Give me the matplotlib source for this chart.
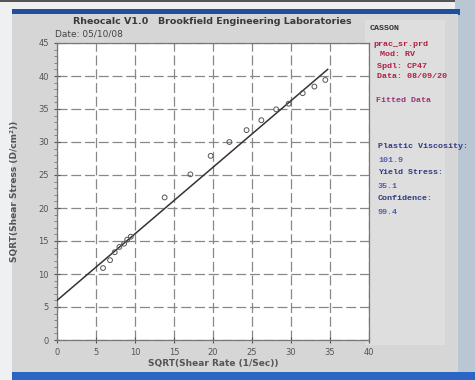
import matplotlib
matplotlib.use("Agg")
import matplotlib.pyplot as plt
from matplotlib.patches import Rectangle
from matplotlib.ticker import MultipleLocator

# Data
shear_rate_sqrt = [5.9, 6.8, 7.4, 8.0, 8.6, 9.0, 9.45, 13.8, 17.1, 19.7,
                   22.1, 24.3, 26.2, 28.1, 29.7, 31.5, 33.0, 34.4]
shear_stress_sqrt = [10.9, 12.1, 13.3, 14.1, 14.6, 15.2, 15.65, 21.6, 25.1, 27.9,
                     30.0, 31.8, 33.3, 34.95, 35.8, 37.4, 38.4, 39.4]
fit_x = [0.0, 34.7]
fit_y = [6.0, 41.0]
x_ticks = [0, 5, 10, 15, 20, 25, 30, 35, 40]
y_ticks = [0, 5, 10, 15, 20, 25, 30, 35, 40, 45]

W, H = 475, 380
fig = plt.figure(figsize=(W / 100, H / 100), dpi=100)
fig.patch.set_facecolor("#eef0f2")

def px_rect(x0, y0, x1, y1, color, z=-10):
    fig.patches.append(Rectangle((x0 / W, 1 - y1 / H), (x1 - x0) / W, (y1 - y0) / H,
                                 transform=fig.transFigure, facecolor=color,
                                 edgecolor="none", zorder=z))

# window decoration
px_rect(0, 0, W, 2, "#555555")
px_rect(455, 0, W, H, "#b9c6d3")
px_rect(12, 9, 460, 15, "#1f4f9e")
px_rect(12, 14, 458, 374, "#d6d6d6")
px_rect(365, 20, 445, 345, "#dedede", z=-9)
px_rect(12, 372, W, H, "#2b66c4")

mono = ["Liberation Mono", "DejaVu Sans Mono"]

ax = fig.add_axes([57 / W, 1 - 340 / H, (369 - 57) / W, (340 - 43) / H])
ax.set_zorder(5)
ax.set_facecolor("white")
ax.plot(fit_x, fit_y, color="#3a3035", lw=1.1, zorder=3)
ax.scatter(shear_rate_sqrt, shear_stress_sqrt, s=12, facecolors="none",
           edgecolors="#555555", linewidths=0.7, zorder=4)
ax.set_xlim(0, 40)
ax.set_ylim(0, 45)
ax.set_xticks(x_ticks)
ax.set_yticks(y_ticks)
ax.yaxis.set_minor_locator(MultipleLocator(1))
ax.grid(True, which="major", color="#888888", ls=(0, (8, 3)), lw=0.9)
ax.tick_params(which="major", direction="inout", length=5, labelsize=6,
               colors="#555555", labelcolor="#555555")
ax.tick_params(which="minor", direction="out", length=2, colors="#777777")
for s in ax.spines.values():
    s.set_color("#777777")
    s.set_linewidth(0.9)
ax.set_xlabel("SQRT(Shear Rate (1/Sec))", fontsize=6.5, color="#555555",
              fontweight="bold", labelpad=1)
ax.set_ylabel("SQRT(Shear Stress (D/cm²))", fontsize=6.5, color="#555555",
              fontweight="bold", labelpad=14)

fig.text(212 / W, 1 - 21 / H, "Rheocalc V1.0   Brookfield Engineering Laboratories",
         fontsize=6.8, fontweight="bold", color="#3a3a3a", ha="center", va="center")
fig.text(55 / W, 1 - 34 / H, "Date: 05/10/08", fontsize=6.5, color="#444444",
         ha="left", va="center")

right_lines = [
    (370, 29, "CASSON", "#333333"),
    (373, 45, "prac_sr.prd", "#b02040"),
    (380, 55, "Mod: RV", "#b02040"),
    (377, 66, "Spdl: CP47", "#b02040"),
    (377, 77, "Data: 08/09/20", "#b02040"),
    (376, 101, "Fitted Data", "#a0307a"),
    (378, 147, "Plastic Viscosity:", "#303a80"),
    (378, 160, "101.9", "#5060b0"),
    (378, 173, "Yield Stress:", "#303a80"),
    (378, 186, "35.1", "#5060b0"),
    (378, 199, "Confidence:", "#303a80"),
    (378, 213, "99.4", "#5060b0"),
]
for x, y, t, c in right_lines:
    fig.text(x / W, 1 - y / H, t, fontsize=6, fontweight="bold", color=c,
             family=mono, ha="left", va="center")

fig.savefig("out.png", dpi=100, facecolor=fig.get_facecolor())
